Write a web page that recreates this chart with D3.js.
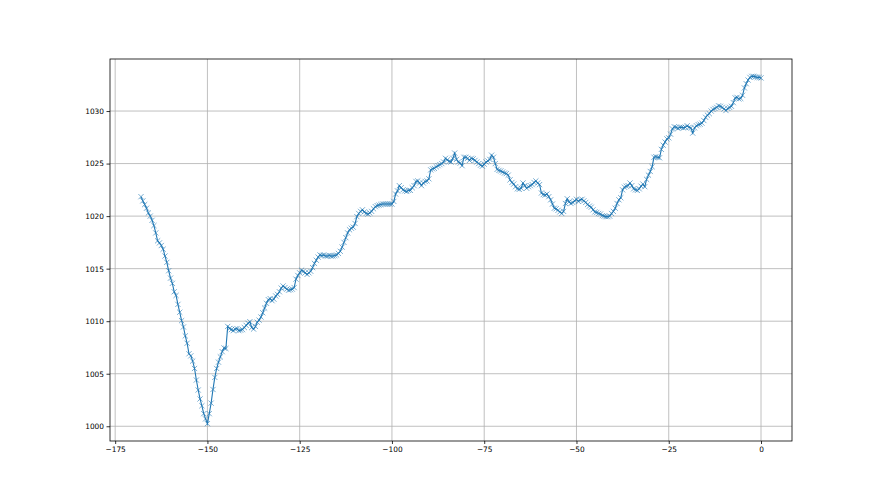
<!DOCTYPE html>
<html>
<head>
<meta charset="utf-8">
<script src="https://cdn.jsdelivr.net/npm/d3@7"></script>
<style>
  body { margin: 0; background: #fff; }
</style>
</head>
<body>
<div class="canvas"></div>
<script>
// pressure readings, one every half hour, from -168 h to 0 h
const pressure = [
  1021.85, 1021.45, 1021.1, 1020.75, 1020.3, 1020.0, 1019.6, 1019.1, 1018.4, 1017.65, 1017.45, 1017.2, 1016.85, 1016.2, 1015.6, 1014.8, 1014.1, 1013.6, 1012.8, 1012.45,
  1011.6, 1010.85, 1010.05, 1009.45, 1008.6, 1007.9, 1006.9, 1006.7, 1006.2, 1005.5, 1004.4, 1003.45, 1002.6, 1001.95, 1001.2, 1000.7, 1000.25, 1001.2, 1002.2, 1003.5,
  1004.65, 1005.5, 1006.1, 1006.6, 1007.1, 1007.45, 1007.4, 1009.5, 1009.3, 1009.2, 1009.1, 1009.25, 1009.3, 1009.1, 1009.15, 1009.2, 1009.4, 1009.6, 1009.8, 1009.95,
  1009.4, 1009.25, 1009.5, 1009.9, 1010.1, 1010.4, 1010.8, 1011.25, 1011.7, 1012.05, 1012.15, 1011.95, 1012.1, 1012.4, 1012.55, 1012.8, 1013.15, 1013.35, 1013.2, 1013.05,
  1012.95, 1013.0, 1013.05, 1013.2, 1014.0, 1014.35, 1014.6, 1014.85, 1014.75, 1014.6, 1014.45, 1014.6, 1014.75, 1015.1, 1015.5, 1015.8, 1016.1, 1016.3, 1016.25, 1016.3,
  1016.2, 1016.2, 1016.25, 1016.2, 1016.2, 1016.25, 1016.3, 1016.45, 1016.65, 1017.05, 1017.5, 1017.95, 1018.4, 1018.7, 1018.85, 1018.95, 1019.3, 1019.95, 1020.25, 1020.45,
  1020.6, 1020.4, 1020.25, 1020.2, 1020.3, 1020.45, 1020.7, 1020.9, 1021.0, 1021.05, 1021.1, 1021.15, 1021.15, 1021.15, 1021.15, 1021.15, 1021.15, 1021.4, 1022.1, 1022.4,
  1022.9, 1022.7, 1022.5, 1022.4, 1022.35, 1022.45, 1022.45, 1022.7, 1022.9, 1023.3, 1023.35, 1023.15, 1022.9, 1023.15, 1023.3, 1023.35, 1023.55, 1024.4, 1024.5, 1024.55,
  1024.7, 1024.8, 1024.9, 1025.0, 1025.15, 1025.5, 1025.35, 1025.2, 1025.15, 1025.5, 1026.0, 1025.4, 1025.15, 1025.05, 1024.8, 1025.6, 1025.6, 1025.5, 1025.3, 1025.5,
  1025.45, 1025.3, 1025.15, 1025.0, 1024.85, 1024.75, 1024.95, 1025.15, 1025.25, 1025.4, 1025.8, 1025.6, 1025.0, 1024.45, 1024.35, 1024.3, 1024.2, 1024.1, 1024.05, 1023.9,
  1023.45, 1023.2, 1023.05, 1022.8, 1022.6, 1022.55, 1022.65, 1023.15, 1022.9, 1022.65, 1022.8, 1022.9, 1023.0, 1023.2, 1023.35, 1023.15, 1023.0, 1022.2, 1022.05, 1022.0,
  1022.1, 1021.85, 1021.55, 1021.15, 1020.75, 1020.7, 1020.55, 1020.4, 1020.25, 1020.45, 1021.2, 1021.65, 1021.35, 1021.2, 1021.3, 1021.45, 1021.6, 1021.4, 1021.55, 1021.6,
  1021.45, 1021.3, 1021.1, 1020.95, 1020.85, 1020.6, 1020.4, 1020.35, 1020.25, 1020.2, 1020.05, 1020.0, 1019.95, 1019.95, 1020.0, 1020.25, 1020.45, 1020.75, 1021.2, 1021.55,
  1021.75, 1022.5, 1022.75, 1022.85, 1022.9, 1023.15, 1022.9, 1022.6, 1022.5, 1022.45, 1022.6, 1022.85, 1023.05, 1022.8, 1023.5, 1023.9, 1024.25, 1024.7, 1025.6, 1025.65,
  1025.6, 1025.55, 1026.35, 1026.75, 1027.05, 1027.35, 1027.45, 1027.8, 1028.3, 1028.5, 1028.45, 1028.35, 1028.45, 1028.45, 1028.4, 1028.45, 1028.6, 1028.45, 1028.4, 1027.9,
  1028.4, 1028.6, 1028.7, 1028.75, 1028.85, 1029.1, 1029.4, 1029.6, 1029.75, 1030.0, 1030.15, 1030.25, 1030.35, 1030.5, 1030.45, 1030.35, 1030.2, 1030.05, 1030.25, 1030.35,
  1030.45, 1030.8, 1031.25, 1031.3, 1031.15, 1031.2, 1031.5, 1032.2, 1032.6, 1032.95, 1033.2, 1033.3, 1033.3, 1033.25, 1033.2, 1033.2, 1033.15
];
// hours before now, matching each reading
const hours = pressure.map((_, i) => -168 + i * 0.5);

const xTicks = [-175, -150, -125, -100, -75, -50, -25, 0];
const yTicks = [1000, 1005, 1010, 1015, 1020, 1025, 1030];

const data = hours.map((h, i) => ({ h, p: pressure[i] }));

const width = 880;
const height = 495;
const margin = { top: 59, right: 88, bottom: 54, left: 110 };

const svg = d3
  .select('.canvas')
  .append('svg')
  .attr('width', width)
  .attr('height', height);

// matplotlib style 5% padding around the data
const pad = (ext) => {
  const d = (ext[1] - ext[0]) * 0.05;
  return [ext[0] - d, ext[1] + d];
};

const x = d3
  .scaleLinear()
  .domain(pad(d3.extent(hours)))
  .range([margin.left, width - margin.right]);

const y = d3
  .scaleLinear()
  .domain(pad(d3.extent(pressure)))
  .range([height - margin.bottom, margin.top]);

const fmt = (d) => String(d).replace('-', '\u2212');

// grid
const grid = svg.append('g').attr('stroke', '#b0b0b0').attr('stroke-width', 0.8);
grid
  .selectAll('.gx')
  .data(xTicks)
  .enter()
  .append('line')
  .attr('x1', (d) => x(d))
  .attr('x2', (d) => x(d))
  .attr('y1', margin.top)
  .attr('y2', height - margin.bottom);
grid
  .selectAll('.gy')
  .data(yTicks)
  .enter()
  .append('line')
  .attr('x1', margin.left)
  .attr('x2', width - margin.right)
  .attr('y1', (d) => y(d))
  .attr('y2', (d) => y(d));

// axes
const xAxis = d3.axisBottom(x).tickValues(xTicks).tickFormat(fmt).tickSize(3).tickPadding(2.5);
const yAxis = d3.axisLeft(y).tickValues(yTicks).tickFormat(fmt).tickSize(3.5).tickPadding(2.5);

const gx = svg
  .append('g')
  .attr('transform', `translate(0,${height - margin.bottom})`)
  .call(xAxis);
const gy = svg.append('g').attr('transform', `translate(${margin.left},0)`).call(yAxis);

[gx, gy].forEach((g) => {
  g.select('.domain').remove();
  g.selectAll('line').attr('stroke', '#000').attr('stroke-width', 0.8);
  g.selectAll('text')
    .attr('font-family', 'DejaVu Sans, sans-serif')
    .attr('font-size', 7.4)
    .attr('fill', '#000');
});

// frame
svg
  .append('rect')
  .attr('x', margin.left)
  .attr('y', margin.top)
  .attr('width', width - margin.left - margin.right)
  .attr('height', height - margin.top - margin.bottom)
  .attr('fill', 'none')
  .attr('stroke', '#000')
  .attr('stroke-width', 0.8);

// line
const line = d3
  .line()
  .x((d) => x(d.h))
  .y((d) => y(d.p));

svg
  .append('path')
  .datum(data)
  .attr('d', line)
  .attr('fill', 'none')
  .attr('stroke', '#1f77b4')
  .attr('stroke-width', 1.1);

// x markers
const s = 2.6;
svg
  .append('g')
  .selectAll('path')
  .data(data)
  .enter()
  .append('path')
  .attr('d', (d) => {
    const cx = x(d.h);
    const cy = y(d.p);
    return `M${cx - s},${cy - s}L${cx + s},${cy + s}M${cx - s},${cy + s}L${cx + s},${cy - s}`;
  })
  .attr('stroke', '#1f77b4')
  .attr('stroke-width', 0.8)
  .attr('opacity', 0.75);
</script>
</body>
</html>
